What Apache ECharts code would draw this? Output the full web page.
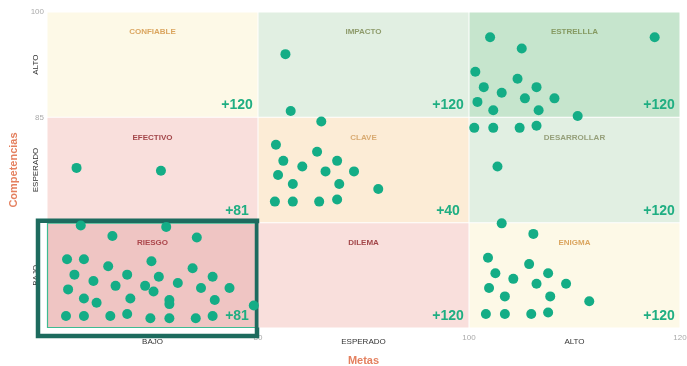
<!DOCTYPE html>
<html>
<head>
<meta charset="utf-8">
<script src="https://cdn.jsdelivr.net/npm/echarts@6/dist/echarts.min.js"></script>
<style>
html,body{margin:0;padding:0;background:#fff;}
#chart{width:687px;height:366px;}
</style>
</head>
<body>
<div id="chart"></div>
<script>
// ---- data ----
const xCategories = ['BAJO', 'ESPERADO', 'ALTO'];
const yCategories = ['BAJO', 'ESPERADO', 'ALTO'];
const xTicks = [60, 80, 100, 120];
const yTicks = [55, 70, 85, 100];
const xTickLabels = ['', '80', '100', '120'];
const yTickLabels = ['', '', '85', '100'];
const xAxisTitle = 'Metas';
const yAxisTitle = 'Competencias';
// cells, row by row from the top
const cellNames = ['CONFIABLE', 'IMPACTO', 'ESTRELLLA', 'EFECTIVO', 'CLAVE', 'DESARROLLAR', 'RIESGO', 'DILEMA', 'ENIGMA'];
const cellCounts = ['+120', '+120', '+120', '+81', '+40', '+120', '+81', '+120', '+120'];
const selectedCell = 6;
// people: metas (x) and competencias (y)
const metas = [
  82.6, 83.1,
  86.0, 81.7, 85.6, 82.4, 87.5, 84.2, 86.4, 89.1, 81.9, 83.3, 87.7, 91.4, 81.6, 83.3, 85.8, 87.5,
  102.0, 117.6, 105.0, 100.6, 104.6, 101.4, 106.4, 103.1, 105.3, 108.1, 100.8, 106.6, 102.3, 110.3,
  100.5, 102.3, 104.8, 106.4, 102.7, 103.1,
  106.1, 101.8, 105.7, 102.5, 107.5, 104.2, 106.4, 109.2, 101.9, 103.4, 107.7, 111.4, 101.6, 103.4, 105.9, 107.5,
  62.8, 70.8,
  63.2, 71.3, 66.2, 74.2, 61.9, 63.5, 65.8, 69.9, 73.8, 62.6, 67.6, 70.6, 75.7, 64.4, 72.4, 66.5, 69.3, 70.1,
  74.6, 77.3, 62.0, 63.5, 67.9, 71.6, 71.6, 75.9, 64.7, 79.6, 61.8, 63.5, 66.0, 67.6, 69.8, 71.6, 74.1, 75.7
];
const competencias = [
  94.0, 85.9,
  84.4, 81.1, 80.1, 78.8, 78.8, 78.0, 77.3, 77.3, 76.8, 75.5, 75.5, 74.8, 73.0, 73.0, 73.0, 73.3,
  96.4, 96.4, 94.8, 91.5, 90.5, 89.3, 89.3, 88.5, 87.7, 87.7, 87.2, 86.0, 86.0, 85.2,
  83.5, 83.5, 83.5, 83.8, 78.0, 69.9,
  68.4, 65.0, 64.1, 62.8, 62.8, 62.0, 61.3, 61.3, 60.7, 59.5, 59.5, 58.8, 57.0, 57.0, 57.0, 57.2,
  77.8, 77.4,
  69.6, 69.4, 68.1, 67.9, 64.8, 64.8, 63.8, 64.5, 63.5, 62.6, 62.6, 62.3, 62.3, 61.7, 61.4, 61.0, 61.0, 60.2,
  60.7, 60.7, 60.5, 59.2, 59.2, 59.0, 58.4, 59.0, 58.6, 58.2, 56.7, 56.7, 56.7, 57.0, 56.4, 56.4, 56.4, 56.7
];

// ---- styles ----
const FONT = '"Liberation Sans", Arial, sans-serif';
const cellFill = ['#fdf9e7', '#e1efe2', '#c6e5cd', '#f9dfdc', '#fcecd6', '#e1efe2', '#efc5c3', '#f9dfdc', '#fdf9e7'];
const cellLabelColor = ['#dba660', '#8e9b6b', '#869a62', '#a3474a', '#d9ab72', '#96a07b', '#ac474c', '#a3474a', '#dba660'];
const countColor = '#1fae82';
const pointColor = '#14ad86';

const chart = echarts.init(document.getElementById('chart'), null, {renderer: 'canvas'});

const cellData = cellNames.map((n, i) => {
  const col = i % 3, row = Math.floor(i / 3);
  return [(xTicks[col] + xTicks[col + 1]) / 2, (yTicks[2 - row] + yTicks[3 - row]) / 2, i];
});

function renderCell(params, api) {
  const i = api.value(2);
  const col = i % 3, row = Math.floor(i / 3);
  const p0 = api.coord([xTicks[col], yTicks[3 - row]]);
  const p1 = api.coord([xTicks[col + 1], yTicks[2 - row]]);
  const w = p1[0] - p0[0], h = p1[1] - p0[1];
  const children = [];
  const sel = i === selectedCell;
  children.push({
    type: 'rect',
    shape: {x: p0[0] + 0.5, y: p0[1] + 0.5, width: w - 1, height: h - 1},
    style: sel ? {fill: cellFill[i], stroke: '#3dbb92', lineWidth: 1.2} : {fill: cellFill[i]}
  });
  if (sel) {
    children.push({
      type: 'rect',
      shape: {x: p0[0] - 9, y: p0[1] - 2, width: w + 8, height: h + 10},
      style: {fill: null, stroke: '#1d6b5e', lineWidth: 4.5}
    });
  }
  children.push({
    type: 'text',
    style: {
      x: p0[0] + w / 2, y: p0[1] + 20, text: cellNames[i],
      fill: cellLabelColor[i], font: 'bold 8px ' + FONT,
      align: 'center', verticalAlign: 'middle'
    }
  });
  children.push({
    type: 'text',
    style: {
      x: p1[0] - 21, y: p1[1] - 12, text: cellCounts[i],
      fill: countColor, font: 'bold 14px ' + FONT,
      align: 'center', verticalAlign: 'middle'
    }
  });
  return {type: 'group', children: children};
}

const option = {
  animation: false,
  backgroundColor: '#ffffff',
  textStyle: {fontFamily: FONT},
  grid: {left: 47, right: 7, top: 12, bottom: 38, containLabel: false, outerBoundsMode: 'none'},
  xAxis: [
    {
      type: 'value', min: xTicks[0], max: xTicks[3], interval: 20,
      name: xAxisTitle, nameLocation: 'middle', nameGap: 27,
      nameTextStyle: {color: '#e4805f', fontSize: 11, fontWeight: 'bold', fontFamily: FONT},
      axisLine: {show: false}, axisTick: {show: false}, splitLine: {show: false},
      axisLabel: {
        fontSize: 8, color: '#aaaaaa', margin: 6, fontFamily: FONT,
        formatter: (v) => xTickLabels[xTicks.indexOf(v)] || ''
      }
    },
    {
      type: 'category', position: 'bottom', data: xCategories, boundaryGap: true,
      axisLine: {show: false}, axisTick: {show: false}, splitLine: {show: false},
      axisLabel: {fontSize: 8, color: '#333333', margin: 10, fontFamily: FONT}
    }
  ],
  yAxis: [
    {
      type: 'value', min: yTicks[0], max: yTicks[3], interval: 15,
      name: yAxisTitle, nameLocation: 'middle', nameGap: 28,
      nameTextStyle: {color: '#e4805f', fontSize: 11, fontWeight: 'bold', fontFamily: FONT},
      axisLine: {show: false}, axisTick: {show: false}, splitLine: {show: false},
      axisLabel: {
        fontSize: 8, color: '#aaaaaa', margin: 3, fontFamily: FONT,
        formatter: (v) => yTickLabels[yTicks.indexOf(v)] || ''
      }
    },
    {
      type: 'category', position: 'left', data: yCategories, boundaryGap: true,
      axisLine: {show: false}, axisTick: {show: false}, splitLine: {show: false},
      axisLabel: {fontSize: 8, color: '#333333', margin: 7, rotate: 90, fontFamily: FONT}
    }
  ],
  series: [
    {
      type: 'custom', xAxisIndex: 0, yAxisIndex: 0, z: 1,
      renderItem: renderCell, data: cellData, encode: {x: 0, y: 1},
      silent: true
    },
    {
      type: 'scatter', xAxisIndex: 0, yAxisIndex: 0, z: 5,
      symbolSize: 10,
      itemStyle: {color: pointColor, opacity: 1},
      data: metas.map((x, i) => [x, competencias[i]])
    }
  ]
};
chart.setOption(option);
</script>
</body>
</html>
